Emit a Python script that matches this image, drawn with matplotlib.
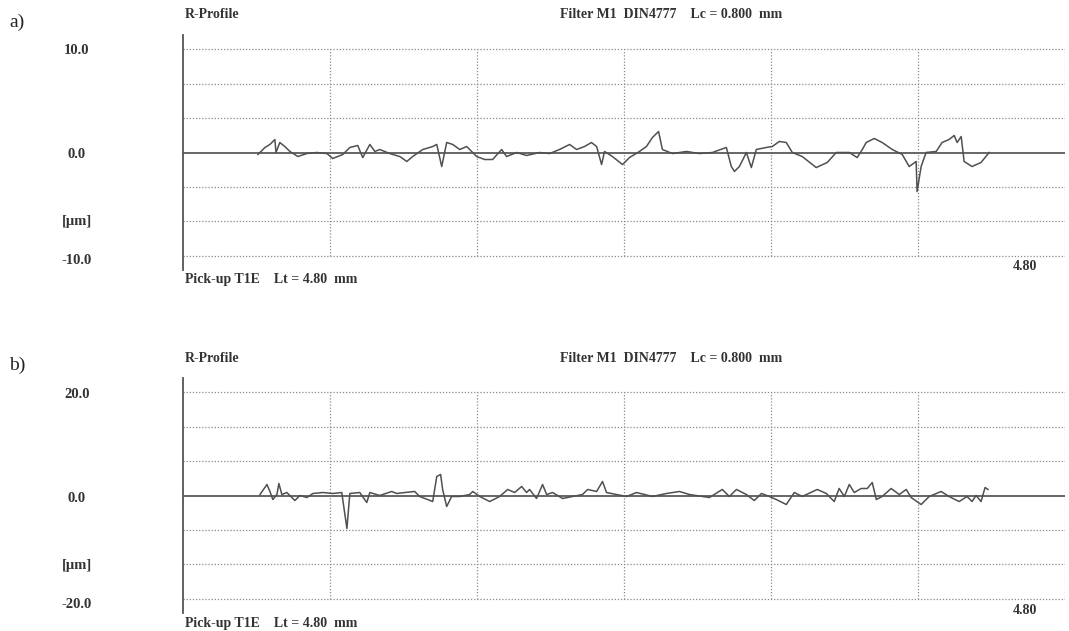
import matplotlib
matplotlib.use("Agg")
import matplotlib.pyplot as plt
import numpy as np

# profile a) : position [mm], height [um]
xa = [0.408, 0.446, 0.473, 0.500, 0.506, 0.527, 0.554, 0.582, 0.625, 0.674, 0.728, 0.783,
      0.815, 0.870, 0.908, 0.951, 0.978, 1.017, 1.044, 1.071, 1.125, 1.180, 1.218, 1.250,
      1.305, 1.359, 1.381, 1.408, 1.435, 1.468, 1.506, 1.544, 1.598, 1.642, 1.685, 1.734,
      1.761, 1.816, 1.870, 1.941, 1.995, 2.049, 2.104, 2.142, 2.185, 2.223, 2.251, 2.278,
      2.294, 2.337, 2.392, 2.430, 2.484, 2.522, 2.555, 2.588, 2.609, 2.664, 2.740, 2.810,
      2.881, 2.957, 2.984, 3.001, 3.028, 3.066, 3.093, 3.120, 3.175, 3.207, 3.245, 3.283,
      3.316, 3.370, 3.446, 3.506, 3.555, 3.626, 3.669, 3.697, 3.718, 3.762, 3.805, 3.860,
      3.914, 3.952, 3.990, 3.995, 4.017, 4.044, 4.099, 4.131, 4.169, 4.197, 4.213, 4.235,
      4.251, 4.294, 4.343, 4.387]
ya = [-0.19, 0.49, 0.78, 1.26, 0.0, 0.97, 0.58, 0.10, -0.39, -0.10, 0.0, -0.10,
      -0.58, -0.19, 0.49, 0.68, -0.49, 0.78, 0.10, 0.29, -0.10, -0.39, -0.87, -0.39,
      0.29, 0.58, 0.78, -1.36, 0.97, 0.78, 0.29, 0.58, -0.39, -0.68, -0.68, 0.29,
      -0.39, 0.0, -0.29, 0.0, -0.10, 0.29, 0.78, 0.29, 0.58, 0.97, 0.58, -1.17,
      0.10, -0.39, -1.17, -0.49, 0.10, 0.58, 1.46, 2.04, 0.29, -0.10, 0.10, -0.10,
      0.0, 0.49, -1.36, -1.84, -1.36, 0.0, -1.46, 0.29, 0.49, 0.58, 1.07, 0.97,
      0.0, -0.39, -1.46, -0.97, 0.0, 0.0, -0.49, 0.29, 0.97, 1.36, 0.97, 0.29,
      -0.19, -1.36, -0.87, -3.79, -1.36, 0.0, 0.10, 0.97, 1.26, 1.65, 0.97, 1.55,
      -0.87, -1.36, -0.97, 0.0]

# profile b)
xb = [0.419, 0.457, 0.473, 0.489, 0.511, 0.522, 0.538, 0.565, 0.609, 0.636, 0.674, 0.707,
      0.761, 0.815, 0.864, 0.892, 0.908, 0.962, 1.000, 1.017, 1.071, 1.136, 1.163, 1.207,
      1.261, 1.288, 1.359, 1.381, 1.402, 1.413, 1.435, 1.462, 1.506, 1.560, 1.577, 1.615,
      1.669, 1.723, 1.767, 1.805, 1.843, 1.870, 1.886, 1.924, 1.957, 1.979, 2.011, 2.066,
      2.120, 2.174, 2.202, 2.251, 2.283, 2.305, 2.359, 2.414, 2.468, 2.555, 2.631, 2.702,
      2.756, 2.865, 2.935, 2.973, 3.012, 3.066, 3.109, 3.148, 3.191, 3.229, 3.283, 3.327,
      3.370, 3.452, 3.501, 3.544, 3.571, 3.599, 3.626, 3.653, 3.691, 3.724, 3.751, 3.773,
      3.805, 3.854, 3.898, 3.936, 3.963, 4.017, 4.061, 4.126, 4.169, 4.224, 4.267, 4.294,
      4.316, 4.343, 4.365, 4.381]
yb = [0.19, 2.14, 0.78, -0.78, 0.19, 2.33, 0.19, 0.58, -0.97, 0.0, -0.39, 0.39,
      0.58, 0.39, 0.58, -6.41, 0.39, 0.58, -1.36, 0.58, 0.0, 0.78, 0.39, 0.58,
      0.78, -0.19, -1.17, 3.69, 4.08, 1.17, -2.14, -0.19, -0.19, 0.19, 0.78, -0.19,
      -1.17, -0.19, 1.17, 0.58, 1.75, 0.58, 1.17, -0.58, 2.14, 0.19, 0.58, -0.58,
      -0.19, 0.19, 1.17, 0.78, 2.72, 0.58, 0.19, -0.19, 0.58, -0.19, 0.39, 0.78,
      0.19, -0.39, 1.17, -0.19, 1.17, 0.19, -0.97, 0.39, -0.19, -0.78, -1.75, 0.58,
      -0.19, 1.17, 0.39, -1.17, 1.36, -0.19, 2.14, 0.58, 1.36, 1.36, 2.52, -0.78,
      -0.19, 1.36, 0.19, 1.17, -0.39, -1.75, -0.19, 0.78, -0.19, -1.17, -0.19, -1.17,
      0.0, -1.17, 1.55, 1.17]

panels = [("a)", xa, ya, 10.0), ("b)", xb, yb, 20.0)]
lt = 4.80
lc = 0.800

W, H = 1069, 631
fig = plt.figure(figsize=(W / 100, H / 100), dpi=100)
plt.rcParams["font.family"] = ["Liberation Serif", "DejaVu Serif"]

gray = "#555555"
bold = dict(fontweight="bold", fontsize=10, color="#333333")
ybold = dict(fontweight="bold", fontsize=10.5, color="#333333")


def ptext(x, y, s, **kw):
    fig.text(x / W, 1 - y / H, s, **kw)


for i, (tag, x, y, ymax) in enumerate(panels):
    off = i * 343
    ax = fig.add_axes([183 / W, (H - 270 - off) / H, 882 / W, 235 / H])
    lim = ymax * 1.14
    ax.set_xlim(0, lt)
    ax.set_ylim(-lim, lim)
    for s in ["top", "right", "bottom"]:
        ax.spines[s].set_visible(False)
    ax.spines["left"].set_color(gray)
    ax.spines["left"].set_linewidth(1.3)
    ax.set_xticks([])
    ax.set_yticks([])

    for g in np.arange(1, 7) * lc:
        ax.plot([g, g], [-ymax, ymax], color="#8a8a8a", lw=0.9, ls=(0, (1, 1.5)))
    for g in np.array([-3, -2, -1, 1, 2, 3]) * ymax / 3:
        ax.plot([0, lt], [g, g], color="#8a8a8a", lw=0.9, ls=(0, (1, 1.5)))
    ax.plot([0, lt], [0, 0], color="#666666", lw=1.4)
    ax.plot(x, y, color="#505050", lw=1.1)

    ptext(17, 22 + off, tag, fontsize=14, ha="center", va="center", color="#222222")
    ptext(185, 15 + off, "R-Profile", ha="left", va="center", **bold)
    ptext(560, 15 + off, f"Filter M1  DIN4777    Lc = {lc:.3f}  mm", ha="left", va="center", **bold)
    ptext(185, 280 + off, f"Pick-up T1E    Lt = {lt:.2f}  mm", ha="left", va="center", **bold)
    ptext(1025, 267 + off, f"{lt:.2f}", ha="center", va="center", **bold)
    ptext(77, 51 + off, f"{ymax:.1f}", ha="center", va="center", **ybold)
    ptext(77, 155 + off, "0.0", ha="center", va="center", **ybold)
    ptext(77, 222 + off, "[µm]", ha="center", va="center", **ybold)
    ptext(77, 261 + off, f"-{ymax:.1f}", ha="center", va="center", **ybold)

fig.savefig("out.png", dpi=100, facecolor="white")
